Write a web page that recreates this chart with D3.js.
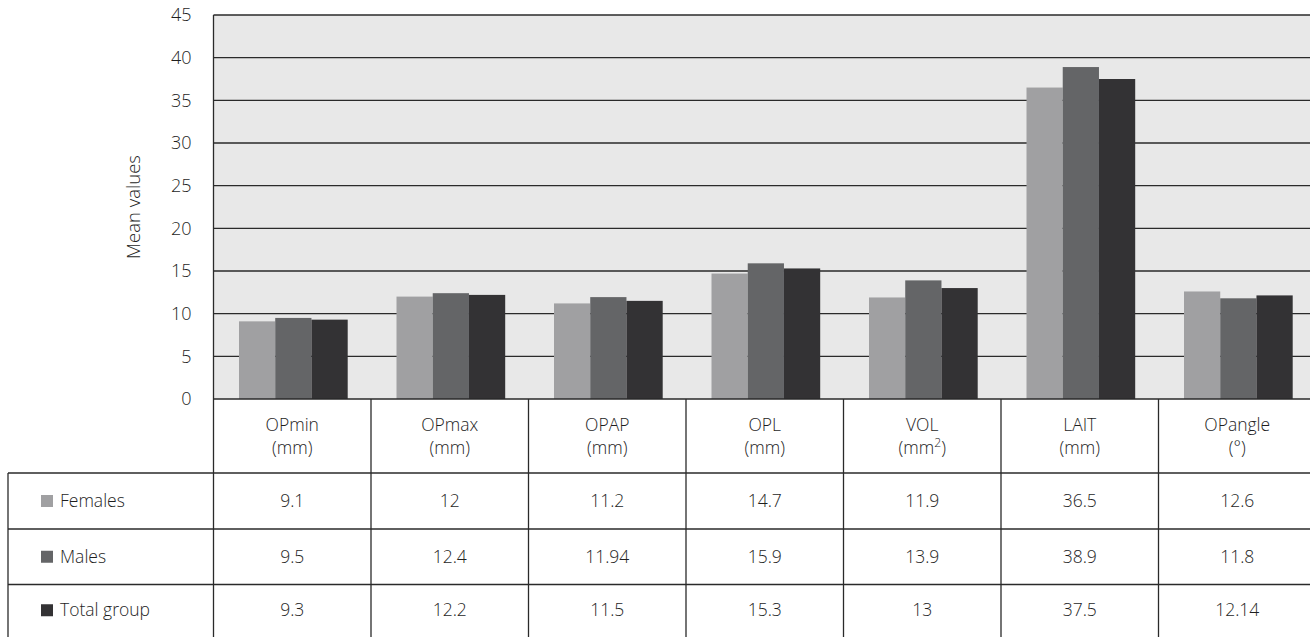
<!DOCTYPE html>
<html>
<head>
	<meta charset="utf-8">
	<title>Mean values</title>
	<style type="text/css">
		body { margin: 0; background: #fff; overflow: hidden; }
		svg { display: block; font-family: 'Open Sans', 'Noto Sans', sans-serif; font-weight: 300; }
	</style>
	<script src="https://d3js.org/d3.v7.min.js"></script>
</head>
<body>
	<svg width="1310" height="637"></svg>
	<script type="text/javascript">
		var categories = ['OPmin', 'OPmax', 'OPAP', 'OPL', 'VOL', 'LAIT', 'OPangle'];
		var units = ['mm', 'mm', 'mm', 'mm', 'mm2', 'mm', '°'];
		var seriesNames = ['Females', 'Males', 'Total group'];
		var females = [9.1, 12, 11.2, 14.7, 11.9, 36.5, 12.6];
		var males = [9.5, 12.4, 11.94, 15.9, 13.9, 38.9, 11.8];
		var total = [9.3, 12.2, 11.5, 15.3, 13, 37.5, 12.14];
		var yTicks = [0, 5, 10, 15, 20, 25, 30, 35, 40, 45];

		var seriesVals = [females, males, total];
		var seriesCols = ['#a0a0a2', '#646567', '#333234'];

		var svg = d3.select('svg');
		var plotLeft = 213.5, plotRight = 1316, plotTop = 15, base = 399;
		var rowY = [473, 529, 584.5, 640];
		var fs = 17.5, txtCol = '#1e1e1e';

		var x0 = d3.scaleBand().domain(categories).range([plotLeft, plotRight]);
		var x1 = d3.scaleBand().domain(seriesNames).range([25.5, 25.5 + 108.7]);
		var y = d3.scaleLinear().domain([0, 45]).range([base, plotTop]);

		// plot background
		svg.append('rect')
			.attr('x', plotLeft).attr('y', plotTop)
			.attr('width', plotRight - plotLeft).attr('height', base - plotTop)
			.attr('fill', '#e8e8e8');

		// gridlines
		svg.append('g').selectAll('line')
			.data(yTicks.filter(d => d > 0))
			.enter().append('line')
			.attr('x1', plotLeft).attr('x2', plotRight)
			.attr('y1', d => y(d)).attr('y2', d => y(d))
			.attr('stroke', '#2a2a2a').attr('stroke-width', 1.3);

		// bars
		categories.forEach((c, i) => {
			seriesNames.forEach((s, j) => {
				var v = seriesVals[j][i];
				svg.append('rect')
					.attr('x', x0(c) + x1(s))
					.attr('y', y(v))
					.attr('width', x1.bandwidth())
					.attr('height', y(0) - y(v))
					.attr('fill', seriesCols[j]);
			});
		});

		// y axis labels
		var yAxis = d3.axisLeft(y).tickValues(yTicks).tickSize(0).tickPadding(22);
		var gy = svg.append('g').attr('transform', 'translate(' + plotLeft + ',0)').call(yAxis);
		gy.select('.domain').remove();
		gy.selectAll('text')
			.attr('font-family', "'Open Sans', sans-serif")
			.attr('font-weight', 300)
			.attr('font-size', 18)
			.attr('fill', txtCol);

		svg.append('line')
			.attr('x1', plotLeft).attr('x2', plotLeft).attr('y1', plotTop).attr('y2', 640)
			.attr('stroke', '#2a2a2a').attr('stroke-width', 1.3);

		svg.append('text')
			.attr('transform', 'translate(140,207) rotate(-90)')
			.attr('text-anchor', 'middle')
			.attr('font-size', 18.5)
			.attr('fill', txtCol)
			.text('Mean values');

		// table lines
		var lines = svg.append('g').attr('stroke', '#2a2a2a').attr('stroke-width', 1.3);
		lines.append('line').attr('x1', plotLeft).attr('x2', plotRight).attr('y1', base).attr('y2', base);
		rowY.slice(0, 3).forEach(r => {
			lines.append('line').attr('x1', 8).attr('x2', plotRight).attr('y1', r).attr('y2', r);
		});
		lines.append('line').attr('x1', 8).attr('x2', 8).attr('y1', rowY[0]).attr('y2', 640);
		categories.forEach(c => {
			lines.append('line')
				.attr('x1', x0(c) + x0.bandwidth()).attr('x2', x0(c) + x0.bandwidth())
				.attr('y1', base).attr('y2', 640);
		});

		// column headers
		categories.forEach((c, i) => {
			var cx = x0(c) + x0.bandwidth() / 2;
			svg.append('text')
				.attr('x', cx).attr('y', 431)
				.attr('text-anchor', 'middle')
				.attr('font-size', fs).attr('fill', txtCol)
				.text(c);
			var t = svg.append('text')
				.attr('x', cx).attr('y', 454)
				.attr('text-anchor', 'middle')
				.attr('font-size', fs).attr('fill', txtCol);
			if (units[i] == 'mm2') {
				t.append('tspan').text('(mm');
				t.append('tspan').attr('dy', -7).attr('font-size', 12).text('2');
				t.append('tspan').attr('dy', 7).text(')');
			} else {
				t.text('(' + units[i] + ')');
			}
		});

		// rows with legend swatches
		seriesNames.forEach((s, j) => {
			var cy = (rowY[j] + rowY[j + 1]) / 2;
			if (j == 2) cy = (rowY[2] + 637) / 2 - 0.5;
			svg.append('rect')
				.attr('x', 41).attr('y', cy - 6)
				.attr('width', 12).attr('height', 12)
				.attr('fill', seriesCols[j]);
			svg.append('text')
				.attr('x', 60).attr('y', cy + 6)
				.attr('font-size', fs).attr('fill', txtCol)
				.text(s);
			categories.forEach((c, i) => {
				svg.append('text')
					.attr('x', x0(c) + x0.bandwidth() / 2).attr('y', cy + 6)
					.attr('text-anchor', 'middle')
					.attr('font-size', fs).attr('fill', txtCol)
					.text(seriesVals[j][i]);
			});
		});
	</script>
</body>
</html>
